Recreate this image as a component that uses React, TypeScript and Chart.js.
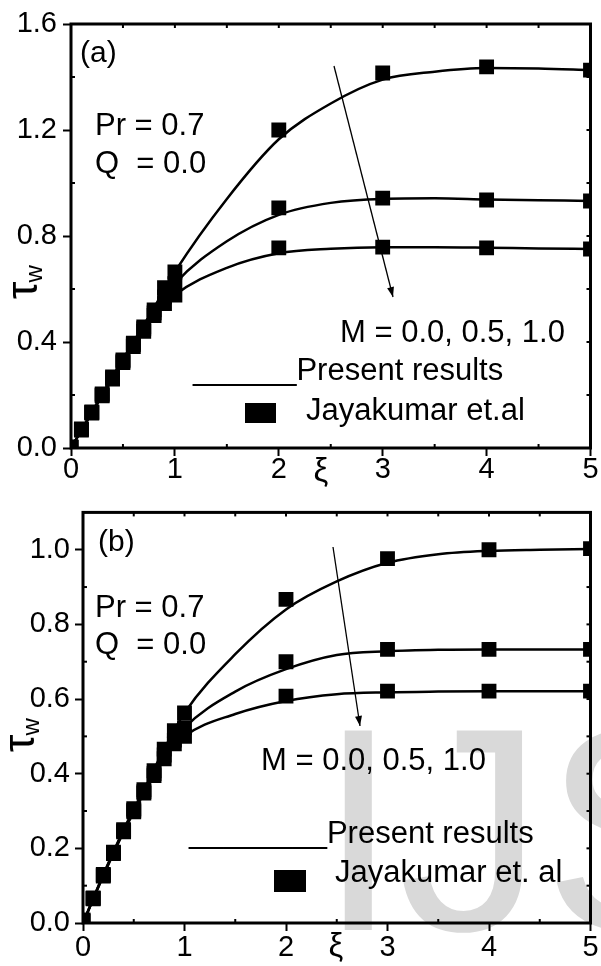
import React, { useEffect, useRef } from 'react';
import { Chart, registerables } from 'chart.js';
Chart.register(...registerables);

// ---------- data ----------
const lineXi = [0, 0.2, 0.4, 0.6, 0.8, 1.0, 1.5, 2.0, 2.5, 3.0, 3.5, 4.0, 4.5, 5.0];
const lineA_M00 = [0, 0.135, 0.27, 0.40, 0.53, 0.665, 0.94, 1.165, 1.30, 1.39, 1.42, 1.434, 1.432, 1.426];
const lineA_M05 = [0, 0.134, 0.265, 0.39, 0.51, 0.62, 0.78, 0.88, 0.925, 0.94, 0.942, 0.938, 0.935, 0.932];
const lineA_M10 = [0, 0.132, 0.26, 0.383, 0.495, 0.577, 0.68, 0.735, 0.752, 0.758, 0.758, 0.756, 0.753, 0.751];

const lineB_M00 = [0, 0.13, 0.25, 0.357, 0.466, 0.563, 0.72, 0.84, 0.915, 0.965, 0.988, 0.997, 1.0, 1.002];
const lineB_M05 = [0, 0.128, 0.247, 0.352, 0.45, 0.523, 0.62, 0.68, 0.718, 0.728, 0.732, 0.733, 0.733, 0.733];
const lineB_M10 = [0, 0.126, 0.244, 0.348, 0.44, 0.50, 0.56, 0.595, 0.613, 0.618, 0.62, 0.621, 0.621, 0.621];

const markXi = [0, 0.1, 0.2, 0.3, 0.4, 0.5, 0.6, 0.7, 0.8, 0.9, 1.0, 2, 3, 4, 5];
const markA_M00 = [0.003, 0.072, 0.136, 0.204, 0.268, 0.332, 0.396, 0.457, 0.521, 0.605, 0.664, 1.2, 1.415, 1.438, 1.426];
const markA_M05 = [0.003, 0.070, 0.134, 0.2, 0.264, 0.328, 0.39, 0.45, 0.51, 0.57, 0.62, 0.906, 0.943, 0.936, 0.932];
const markA_M10 = [0.003, 0.068, 0.132, 0.197, 0.26, 0.322, 0.383, 0.44, 0.50, 0.545, 0.577, 0.755, 0.758, 0.755, 0.751];

const markB_M00 = [0.008, 0.067, 0.13, 0.19, 0.25, 0.306, 0.357, 0.408, 0.466, 0.515, 0.563, 0.867, 0.976, 1.0, 1.003];
const markB_M05 = [0.006, 0.066, 0.128, 0.188, 0.247, 0.302, 0.352, 0.40, 0.45, 0.49, 0.523, 0.70, 0.733, 0.733, 0.733];
const markB_M10 = [0.005, 0.065, 0.126, 0.186, 0.244, 0.298, 0.348, 0.395, 0.44, 0.48, 0.50, 0.608, 0.621, 0.621, 0.621];

const xMinor = [0.5, 1.5, 2.5, 3.5, 4.5];
const xTopTicks = [0.5, 1, 1.5, 2, 2.5, 3, 3.5, 4, 4.5];
const yA_Minor = [0.2, 0.6, 1.0, 1.4];
const yA_Right = [0.2, 0.4, 0.6, 0.8, 1.0, 1.2, 1.4];
const yB_Minor = [0.1, 0.3, 0.5, 0.7, 0.9];
const yB_Right = [0.1, 0.2, 0.3, 0.4, 0.5, 0.6, 0.7, 0.8, 0.9, 1.0];

const FONT = "'Liberation Sans', Arial, Helvetica, sans-serif";

type Txt = { t: string; x: number; y: number; size: number; align?: CanvasTextAlign };
type PanelCfg = {
  height: number;
  top: number;
  padTop: number;
  padRight: number;
  yWidth: number;
  xHeight: number;
  yMax: number;
  yStep: number;
  yPad: number;
  xPad: number;
  lines: number[][];
  marks: number[][];
  yMinor: number[];
  yRight: number[];
  texts: Txt[];
  arrow: number[];
  legendRect: number[];
  tau: { x: number; y: number };
  watermark?: { x: number; y: number };
};

const panelA: PanelCfg = {
  height: 490, top: 0, padTop: 24, padRight: 9, yWidth: 71, xHeight: 42,
  yMax: 1.6, yStep: 0.4, yPad: 6, xPad: -3,
  lines: [lineA_M00, lineA_M05, lineA_M10],
  marks: [markA_M00, markA_M05, markA_M10],
  yMinor: yA_Minor, yRight: yA_Right,
  texts: [
    { t: '(a)', x: 80, y: 62, size: 30 },
    { t: 'Pr = 0.7', x: 95, y: 135, size: 31 },
    { t: 'Q  = 0.0', x: 95, y: 173, size: 31 },
    { t: 'M = 0.0, 0.5, 1.0', x: 340, y: 342, size: 31 },
    { t: '______Present results', x: 193, y: 380, size: 31 },
    { t: 'Jayakumar et.al', x: 306, y: 420, size: 31 },
    { t: 'ξ', x: 321, y: 481, size: 33, align: 'center' },
  ],
  arrow: [334, 66, 393, 297],
  legendRect: [245, 403, 31, 20],
  tau: { x: 37, y: 299 },
};

const panelB: PanelCfg = {
  height: 476, top: 490, padTop: 19, padRight: 10, yWidth: 83, xHeight: 43,
  yMax: 1.1, yStep: 0.2, yPad: 5, xPad: 0,
  lines: [lineB_M00, lineB_M05, lineB_M10],
  marks: [markB_M00, markB_M05, markB_M10],
  yMinor: yB_Minor, yRight: yB_Right,
  texts: [
    { t: '(b)', x: 98, y: 61, size: 30 },
    { t: 'Pr = 0.7', x: 95, y: 127, size: 31 },
    { t: 'Q  = 0.0', x: 95, y: 164, size: 31 },
    { t: 'M = 0.0, 0.5, 1.0', x: 261, y: 280, size: 31 },
    { t: '________Present results', x: 189, y: 353, size: 31 },
    { t: 'Jayakumar et. al', x: 335, y: 392, size: 31 },
    { t: 'ξ', x: 336, y: 466, size: 33, align: 'center' },
  ],
  arrow: [333, 57, 360, 236],
  legendRect: [274, 380, 32, 22],
  tau: { x: 34, y: 262 },
  watermark: { x: 318, y: 440 },
};

function makePlugin(cfg: PanelCfg) {
  return {
    id: 'decor',
    beforeDraw(chart: any) {
      if (!cfg.watermark) return;
      const ctx = chart.ctx;
      ctx.save();
      ctx.fillStyle = '#d9d9d9';
      ctx.font = `290px ${FONT}`;
      ctx.textBaseline = 'alphabetic';
      ctx.textAlign = 'left';
      ctx.fillText('IJSER', cfg.watermark.x, cfg.watermark.y);
      ctx.restore();
    },
    afterDraw(chart: any) {
      const ctx: CanvasRenderingContext2D = chart.ctx;
      const a = chart.chartArea;
      const xs = chart.scales.x;
      const ys = chart.scales.y;
      ctx.save();
      ctx.strokeStyle = '#000';
      ctx.fillStyle = '#000';
      ctx.lineWidth = 3;
      ctx.strokeRect(a.left, a.top, a.right - a.left, a.bottom - a.top);
      ctx.lineWidth = 2;
      const seg = (x1: number, y1: number, x2: number, y2: number) => {
        ctx.beginPath(); ctx.moveTo(x1, y1); ctx.lineTo(x2, y2); ctx.stroke();
      };
      for (const v of xTopTicks) { const p = xs.getPixelForValue(v); seg(p, a.top, p, a.top + 4); }
      for (const v of xMinor) { const p = xs.getPixelForValue(v); seg(p, a.bottom, p, a.bottom - 4); }
      for (const v of cfg.yMinor) { const p = ys.getPixelForValue(v); seg(a.left, p, a.left + 4, p); }
      for (const v of cfg.yRight) { const p = ys.getPixelForValue(v); seg(a.right, p, a.right - 4, p); }

      // texts
      ctx.textBaseline = 'alphabetic';
      for (const t of cfg.texts) {
        ctx.font = `${t.size}px ${FONT}`;
        ctx.textAlign = t.align || 'left';
        ctx.fillText(t.t, t.x, t.y);
      }
      // legend marker
      const [rx, ry, rw, rh] = cfg.legendRect;
      ctx.fillRect(rx, ry, rw, rh);
      // arrow
      const [x1, y1, x2, y2] = cfg.arrow;
      ctx.lineWidth = 1.3;
      seg(x1, y1, x2, y2);
      const ang = Math.atan2(y2 - y1, x2 - x1);
      const L = 10, W = 3.5;
      ctx.beginPath();
      ctx.moveTo(x2, y2);
      ctx.lineTo(x2 - L * Math.cos(ang) + W * Math.sin(ang), y2 - L * Math.sin(ang) - W * Math.cos(ang));
      ctx.lineTo(x2 - L * Math.cos(ang) - W * Math.sin(ang), y2 - L * Math.sin(ang) + W * Math.cos(ang));
      ctx.closePath();
      ctx.fill();
      // tau_w rotated
      ctx.save();
      ctx.translate(cfg.tau.x, cfg.tau.y);
      ctx.rotate(-Math.PI / 2);
      ctx.textAlign = 'left';
      ctx.font = `44px ${FONT}`;
      ctx.fillText('τ', 0, 0);
      const w = ctx.measureText('τ').width;
      ctx.font = `24px ${FONT}`;
      ctx.fillText('w', w - 1, 5);
      ctx.restore();
      ctx.restore();
    },
  };
}

function buildConfig(cfg: PanelCfg): any {
  const datasets: any[] = [];
  cfg.lines.forEach((arr) => {
    datasets.push({
      type: 'line',
      data: lineXi.map((x, i) => ({ x, y: arr[i] })),
      borderColor: '#000',
      borderWidth: 2.5,
      pointRadius: 0,
      fill: false,
      showLine: true,
      cubicInterpolationMode: 'monotone',
      tension: 0.4,
    });
  });
  cfg.marks.forEach((arr) => {
    datasets.push({
      type: 'scatter',
      data: markXi.map((x, i) => ({ x, y: arr[i] })),
      backgroundColor: '#000',
      borderColor: '#000',
      borderWidth: 0,
      pointStyle: 'rect',
      pointRadius: 10.5,
      showLine: false,
    });
  });
  return {
    type: 'scatter',
    data: { datasets },
    options: {
      animation: false,
      responsive: false,
      devicePixelRatio: 1,
      layout: { padding: { top: cfg.padTop, right: cfg.padRight, left: 0, bottom: 0 } },
      plugins: { legend: { display: false }, tooltip: { enabled: false } },
      scales: {
        x: {
          type: 'linear', min: 0, max: 5,
          afterFit: (s: any) => { s.height = cfg.xHeight; },
          ticks: { stepSize: 1, color: '#000', font: { family: FONT, size: 29 }, padding: cfg.xPad, maxRotation: 0 },
          grid: { display: true, drawOnChartArea: false, drawTicks: true, tickLength: 8, tickWidth: 2, color: '#000' },
          border: { display: false },
        },
        y: {
          type: 'linear', min: 0, max: cfg.yMax,
          afterFit: (s: any) => { s.width = cfg.yWidth; },
          ticks: {
            stepSize: cfg.yStep, includeBounds: false, color: '#000',
            font: { family: FONT, size: 29 }, padding: cfg.yPad,
            callback: (v: number) => Number(v).toFixed(1),
          },
          grid: { display: true, drawOnChartArea: false, drawTicks: true, tickLength: 8, tickWidth: 2, color: '#000' },
          border: { display: false },
        },
      },
    },
    plugins: [makePlugin(cfg)],
  };
}

function Panel({ cfg }: { cfg: PanelCfg }) {
  const ref = useRef<HTMLCanvasElement>(null);
  useEffect(() => {
    if (!ref.current) return;
    const chart = new Chart(ref.current, buildConfig(cfg));
    return () => chart.destroy();
  }, [cfg]);
  return (
    <canvas
      ref={ref}
      width={601}
      height={cfg.height}
      style={{ position: 'absolute', left: 0, top: cfg.top, width: 601, height: cfg.height }}
    />
  );
}

export default function App() {
  return (
    <div style={{ position: 'absolute', left: 0, top: 0, width: 601, height: 966, background: '#fff', overflow: 'hidden' }}>
      <Panel cfg={panelA} />
      <Panel cfg={panelB} />
    </div>
  );
}
